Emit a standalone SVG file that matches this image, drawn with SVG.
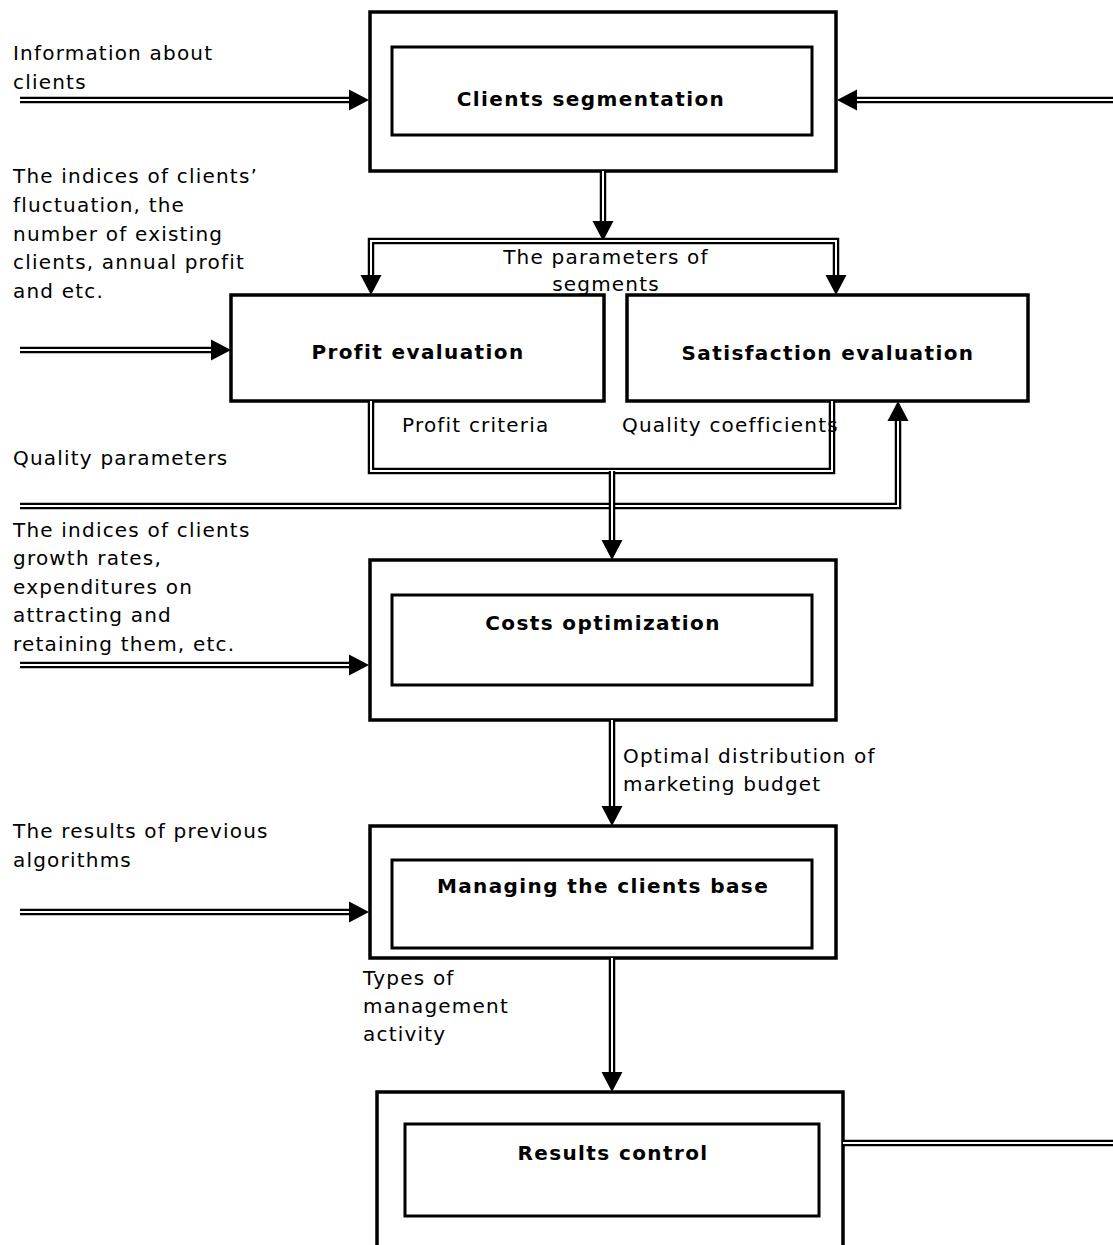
<svg xmlns="http://www.w3.org/2000/svg" xmlns:xlink="http://www.w3.org/1999/xlink" width="1113" height="1245" viewBox="0 0 1113 1245">
<defs>
<style>
.box{fill:#fff;stroke:#000;stroke-width:3.5}
.inner{fill:none;stroke:#000;stroke-width:3}
.o{fill:none;stroke:#000;stroke-width:6.5;stroke-linejoin:miter}
.i{fill:none;stroke:#fff;stroke-width:2;stroke-linejoin:miter}
text{font-family:"DejaVu Sans",Verdana,sans-serif;font-size:20px;letter-spacing:1.2px;fill:#000}
.t{font-weight:bold;text-anchor:middle;letter-spacing:1.4px}
.c{text-anchor:middle}
</style>
<path id="ah" d="M0,0 L-20,-10.5 L-20,10.5 Z" fill="#000"/>
</defs>
<rect width="1113" height="1245" fill="#fff"/>

<g id="n-segmentation">
<rect class="box" x="370" y="12" width="466" height="159"/>
<rect class="inner" x="392" y="47" width="420" height="88"/>
<text class="t" x="591" y="106">Clients segmentation</text>
</g>
<g id="n-profit">
<rect class="box" x="231" y="295" width="373" height="106"/>
<text class="t" x="418" y="359">Profit evaluation</text>
</g>
<g id="n-satisfaction">
<rect class="box" x="627" y="295" width="401" height="106"/>
<text class="t" x="828" y="360">Satisfaction evaluation</text>
</g>
<g id="n-costs">
<rect class="box" x="370" y="560" width="466" height="160"/>
<rect class="inner" x="392" y="595" width="420" height="90"/>
<text class="t" x="603" y="630">Costs optimization</text>
</g>
<g id="n-managing">
<rect class="box" x="370" y="826" width="466" height="132"/>
<rect class="inner" x="392" y="860" width="420" height="88"/>
<text class="t" x="603" y="893">Managing the clients base</text>
</g>
<g id="n-results">
<rect class="box" x="377" y="1092" width="466" height="170"/>
<rect class="inner" x="405" y="1124" width="414" height="92"/>
<text class="t" x="613" y="1160">Results control</text>
</g>

<g id="connectors">
<g id="c-info"><path class="o" d="M20,100 H352"/><path class="i" d="M20,100 H352"/><use xlink:href="#ah" transform="translate(369,100)"/></g>
<g id="c-right"><path class="o" d="M1113,100 H854"/><path class="i" d="M1113,100 H854"/><use xlink:href="#ah" transform="translate(837,100) rotate(180)"/></g>
<g id="c-seg-down"><path class="o" d="M603,171 V224"/><path class="i" d="M603,171 V224"/><use xlink:href="#ah" transform="translate(603,241) rotate(90)"/></g>
<g id="c-split"><path class="o" d="M371,278 V241 H836 V278"/><path class="i" d="M371,278 V241 H836 V278"/><use xlink:href="#ah" transform="translate(371,295) rotate(90)"/><use xlink:href="#ah" transform="translate(836,295) rotate(90)"/></g>
<g id="c-profit-in"><path class="o" d="M20,350 H214"/><path class="i" d="M20,350 H214"/><use xlink:href="#ah" transform="translate(231,350)"/></g>
<g id="c-merge"><path class="o" d="M371,401 V471 H832 V401"/><path class="i" d="M371,401 V471 H832 V401"/></g>
<g id="c-quality"><path class="o" d="M20,506 H898 V418"/><path class="i" d="M20,506 H898 V418"/><use xlink:href="#ah" transform="translate(898,401) rotate(-90)"/></g>
<g id="c-merge-down"><path class="o" d="M612,471 V543"/><path class="i" d="M612,471 V543"/><use xlink:href="#ah" transform="translate(612,560) rotate(90)"/></g>
<g id="c-costs-in"><path class="o" d="M20,665 H352"/><path class="i" d="M20,665 H352"/><use xlink:href="#ah" transform="translate(369,665)"/></g>
<g id="c-costs-down"><path class="o" d="M612,720 V809"/><path class="i" d="M612,720 V809"/><use xlink:href="#ah" transform="translate(612,826) rotate(90)"/></g>
<g id="c-managing-in"><path class="o" d="M20,912 H352"/><path class="i" d="M20,912 H352"/><use xlink:href="#ah" transform="translate(369,912)"/></g>
<g id="c-managing-down"><path class="o" d="M612,958 V1075"/><path class="i" d="M612,958 V1075"/><use xlink:href="#ah" transform="translate(612,1092) rotate(90)"/></g>
<g id="c-results-out"><path class="o" d="M843,1143 H1113"/><path class="i" d="M843,1143 H1113"/></g>
</g>

<g id="labels">
<text x="13" y="60">Information about</text>
<text x="13" y="89">clients</text>
<text x="13" y="183">The indices of clients’</text>
<text x="13" y="212">fluctuation, the</text>
<text x="13" y="241">number of existing</text>
<text x="13" y="269">clients, annual profit</text>
<text x="13" y="298">and etc.</text>
<text class="c" x="606" y="264">The parameters of</text>
<text class="c" x="606" y="291">segments</text>
<text x="402" y="432">Profit criteria</text>
<text x="622" y="432">Quality coefficients</text>
<text x="13" y="465">Quality parameters</text>
<text x="13" y="537">The indices of clients</text>
<text x="13" y="565">growth rates,</text>
<text x="13" y="594">expenditures on</text>
<text x="13" y="622">attracting and</text>
<text x="13" y="651">retaining them, etc.</text>
<text x="623" y="763">Optimal distribution of</text>
<text x="623" y="791">marketing budget</text>
<text x="13" y="838">The results of previous</text>
<text x="13" y="867">algorithms</text>
<text x="363" y="985">Types of</text>
<text x="363" y="1013">management</text>
<text x="363" y="1041">activity</text>
</g>
</svg>
